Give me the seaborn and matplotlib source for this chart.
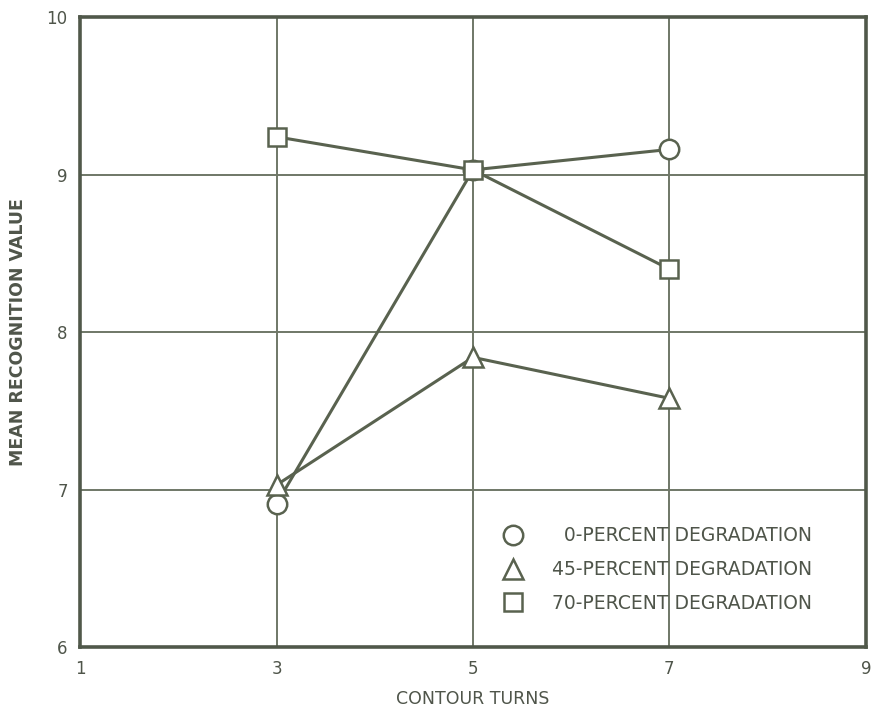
import matplotlib
matplotlib.use("Agg")
import matplotlib.pyplot as plt
from matplotlib.lines import Line2D
import seaborn as sns
import pandas as pd

contour_turns = [3, 5, 7]
deg0 = [6.91, 9.03, 9.16]
deg45 = [7.03, 7.84, 7.58]
deg70 = [9.24, 9.03, 8.40]
series_names = ["0-PERCENT DEGRADATION", "45-PERCENT DEGRADATION", "70-PERCENT DEGRADATION"]
x_ticks = [1, 3, 5, 7, 9]
y_ticks = [6, 7, 8, 9, 10]

rows = []
for name, vals in zip(series_names, [deg0, deg45, deg70]):
    for x, y in zip(contour_turns, vals):
        rows.append({"turns": x, "value": y, "series": name})
df = pd.DataFrame(rows)

sns.set_style("white")
plt.rcParams["font.family"] = ["DejaVu Sans"]

line_col = "#59624f"
grid_col = "#6f7767"
text_col = "#4f554a"

fig = plt.figure(figsize=(8.71, 7.12), dpi=100)
ax = fig.add_axes([0.092, 0.091, 0.902, 0.885])

markers = {series_names[0]: "o", series_names[1]: "^", series_names[2]: "s"}
sizes = {series_names[0]: 14, series_names[1]: 15, series_names[2]: 13}

for name in series_names:
    sub = df[df.series == name]
    sns.lineplot(data=sub, x="turns", y="value", ax=ax, color=line_col,
                 linewidth=2.2, marker=markers[name], markersize=sizes[name],
                 markerfacecolor="white", markeredgecolor=line_col,
                 markeredgewidth=1.8, legend=False, zorder=3)

ax.set_xlim(1, 9)
ax.set_ylim(6, 10)
ax.set_xticks(x_ticks)
ax.set_yticks(y_ticks)
ax.set_xticklabels([str(t) for t in x_ticks])
ax.set_yticklabels([str(t) for t in y_ticks])
ax.grid(True, color=grid_col, linewidth=1.4)
ax.set_axisbelow(True)
for s in ax.spines.values():
    s.set_color("#50584a")
    s.set_linewidth(2.6)
ax.tick_params(axis="both", length=0, labelsize=12, labelcolor=text_col, pad=9)
ax.set_xlabel("CONTOUR TURNS", fontsize=12.5, color=text_col, labelpad=9)
ax.set_ylabel("MEAN RECOGNITION VALUE", fontsize=12.5, fontweight="bold",
              color=text_col, labelpad=14)

handles = [Line2D([], [], linestyle="none", marker=markers[n], markersize=sizes[n],
                  markerfacecolor="white", markeredgecolor=line_col, markeredgewidth=1.8)
           for n in series_names]
labels = ["\u2007" + series_names[0], series_names[1], series_names[2]]
leg = ax.legend(handles, labels, loc="lower left", bbox_to_anchor=(0.515, 0.028),
                frameon=False, fontsize=13.5, labelspacing=0.78, handletextpad=1.5,
                handlelength=1.2)
for t in leg.get_texts():
    t.set_color(text_col)

fig.savefig("out.png", dpi=100, facecolor="white")
